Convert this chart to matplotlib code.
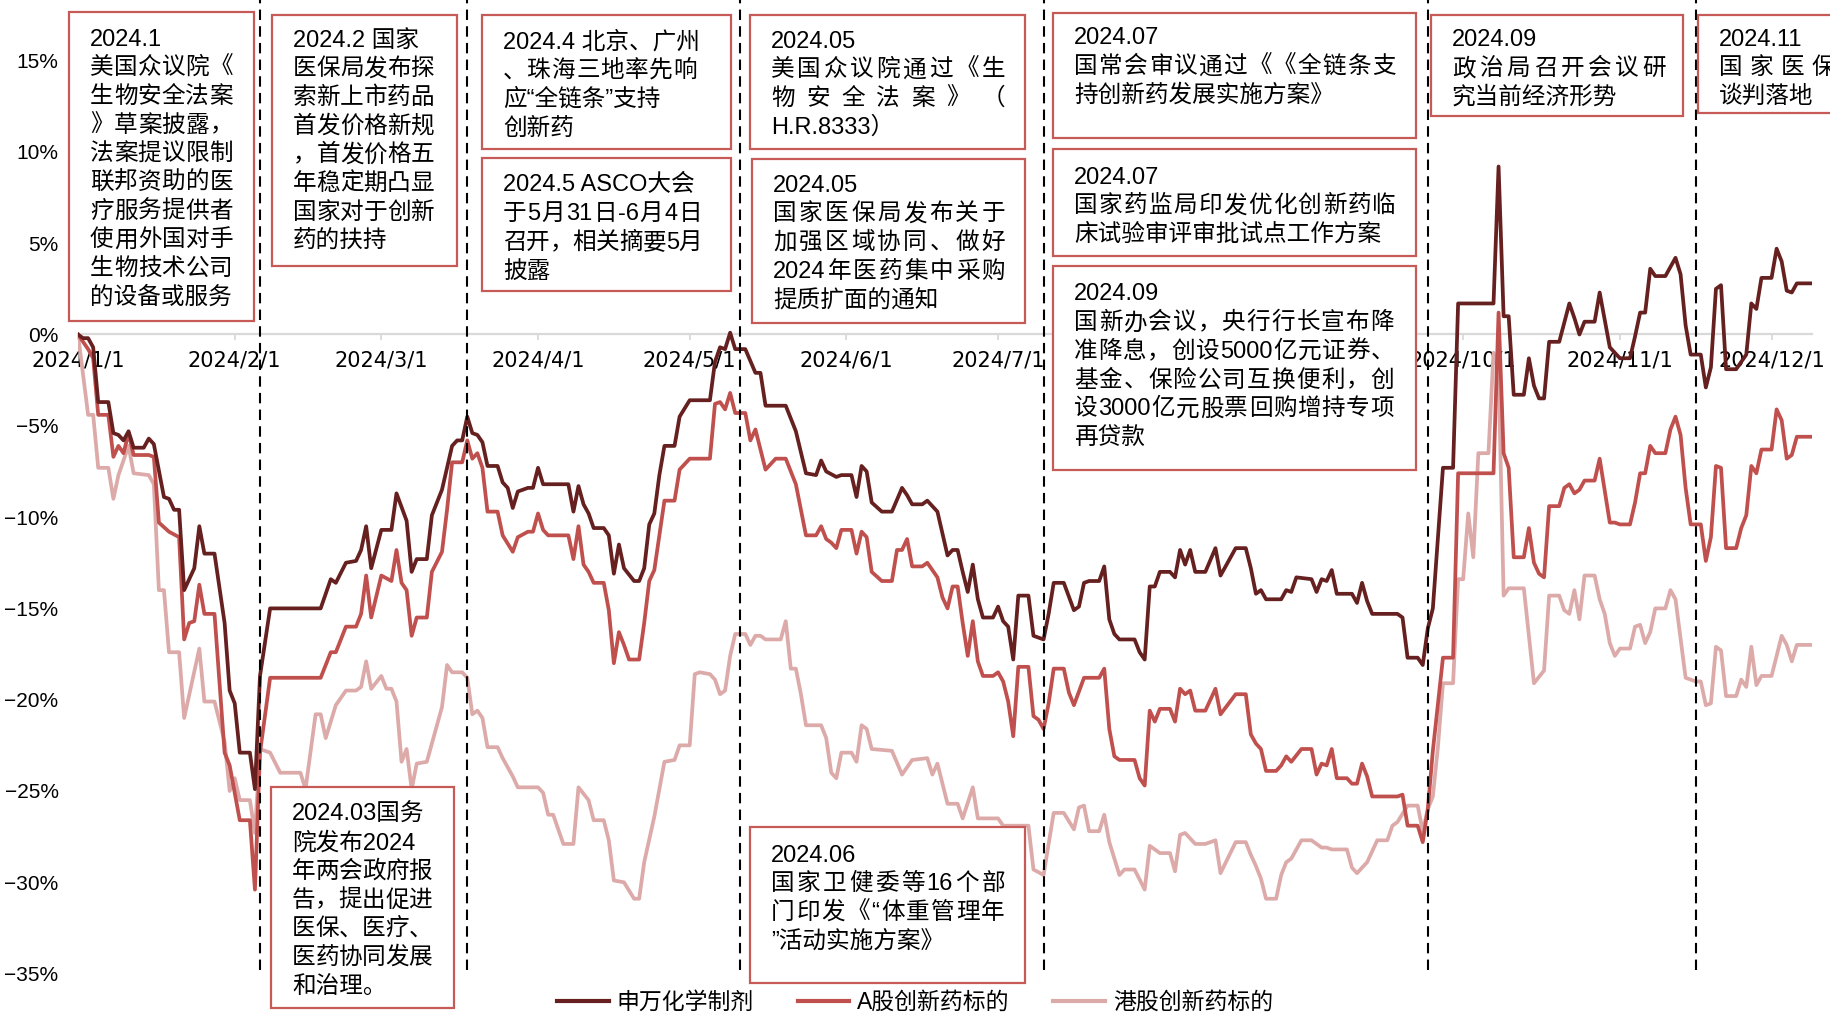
#!/usr/bin/env python3
# -*- coding: utf-8 -*-

import re

import pandas as pd
import matplotlib
matplotlib.use("Agg")
import matplotlib.pyplot as plt
from matplotlib.patches import Rectangle
from matplotlib.lines import Line2D

W, H = 1830, 1014

DARK = "#65201F"
MID = "#C0504D"
LIGHT = "#DDAAAA"
BOX_RED = "#C55A57"
CJK = ["Liberation Sans", "Noto Sans CJK SC", "DejaVu Sans"]

# 累计涨跌幅(%)，日期为 2024 年 月-日
chem_dates = [
    "1-1", "1-2", "1-3", "1-4", "1-5", "1-7", "1-8", "1-9", "1-10", "1-11", "1-12", "1-14",
    "1-15", "1-16", "1-18", "1-19", "1-20", "1-21", "1-22", "1-24", "1-25", "1-26", "1-28", "1-30",
    "1-31", "2-1", "2-2", "2-4", "2-5", "2-6", "2-8", "2-18", "2-19", "2-20", "2-21", "2-23",
    "2-25", "2-26", "2-27", "2-28", "3-1", "3-3", "3-4", "3-6", "3-7", "3-8", "3-10", "3-11",
    "3-13", "3-15", "3-16", "3-17", "3-18", "3-19", "3-20", "3-21", "3-22", "3-24", "3-25", "3-26",
    "3-27", "3-28", "3-30", "3-31", "4-1", "4-2", "4-7", "4-8", "4-9", "4-10", "4-11", "4-12",
    "4-14", "4-15", "4-16", "4-17", "4-18", "4-20", "4-21", "4-22", "4-23", "4-24", "4-25", "4-26",
    "4-28", "4-29", "5-1", "5-5", "5-6", "5-7", "5-8", "5-9", "5-10", "5-12", "5-14", "5-15",
    "5-16", "5-20", "5-21", "5-22", "5-24", "5-26", "5-27", "5-28", "5-30", "5-31", "6-2", "6-3",
    "6-4", "6-5", "6-6", "6-8", "6-10", "6-12", "6-13", "6-14", "6-16", "6-17", "6-19", "6-21",
    "6-22", "6-23", "6-24", "6-25", "6-26", "6-27", "6-28", "6-30", "7-1", "7-2", "7-3", "7-4",
    "7-5", "7-7", "7-8", "7-10", "7-11", "7-12", "7-14", "7-16", "7-17", "7-18", "7-19", "7-21",
    "7-22", "7-23", "7-24", "7-25", "7-28", "7-29", "7-30", "7-31", "8-1", "8-2", "8-4", "8-5",
    "8-6", "8-7", "8-8", "8-9", "8-11", "8-13", "8-14", "8-17", "8-19", "8-20", "8-21", "8-22",
    "8-23", "8-26", "8-27", "8-28", "8-29", "9-1", "9-2", "9-3", "9-4", "9-5", "9-6", "9-9",
    "9-10", "9-11", "9-12", "9-13", "9-18", "9-19", "9-20", "9-22", "9-23", "9-24", "9-25", "9-27",
    "9-29", "9-30", "10-7", "10-8", "10-9", "10-10", "10-11", "10-13", "10-14", "10-15", "10-16", "10-17",
    "10-18", "10-20", "10-22", "10-23", "10-24", "10-25", "10-27", "10-28", "10-30", "10-31", "11-1", "11-3",
    "11-4", "11-5", "11-6", "11-7", "11-8", "11-10", "11-12", "11-13", "11-14", "11-15", "11-17", "11-18",
    "11-19", "11-20", "11-21", "11-22", "11-24", "11-26", "11-27", "11-28", "11-29", "12-1", "12-2", "12-3",
    "12-4", "12-5", "12-6", "12-9",
]
chem_vals = [
    0.0, -0.2, -0.2, -0.7, -3.7, -3.7, -5.4, -5.5, -5.8, -5.3, -6.2, -6.2,
    -5.7, -6.0, -8.9, -9.0, -9.6, -9.6, -14.0, -12.8, -10.5, -12.0, -12.0, -15.8,
    -19.5, -20.2, -22.9, -22.9, -24.9, -18.7, -15.0, -15.0, -14.2, -13.4, -13.6, -12.5,
    -12.4, -11.8, -10.5, -12.8, -10.7, -10.7, -8.7, -10.2, -13.0, -12.3, -12.3, -9.9,
    -8.5, -6.1, -5.8, -5.8, -4.5, -5.4, -5.5, -5.9, -7.2, -7.2, -8.1, -8.4,
    -9.5, -8.6, -8.4, -8.4, -7.3, -8.2, -8.2, -9.7, -8.3, -9.3, -9.8, -10.6,
    -10.6, -11.0, -13.1, -11.5, -12.8, -13.5, -13.5, -12.8, -10.4, -9.8, -7.7, -6.1,
    -6.1, -4.5, -3.6, -3.6, -1.5, -0.7, -0.8, 0.1, -0.8, -0.8, -2.1, -2.1,
    -3.9, -3.9, -4.6, -5.3, -7.6, -7.7, -6.9, -7.5, -7.8, -7.7, -7.7, -8.9,
    -7.2, -7.5, -9.2, -9.7, -9.7, -8.4, -8.8, -9.3, -9.3, -9.1, -9.7, -12.1,
    -11.8, -11.8, -13.0, -14.1, -12.6, -14.5, -15.5, -15.5, -14.9, -15.7, -16.0, -17.8,
    -14.3, -14.3, -16.5, -16.7, -15.3, -13.6, -13.6, -15.1, -14.9, -13.6, -13.5, -13.5,
    -12.7, -15.6, -16.4, -16.7, -16.7, -17.4, -17.8, -13.8, -13.8, -13.0, -13.0, -13.3,
    -11.8, -12.6, -11.8, -13.0, -13.0, -11.7, -13.2, -11.7, -11.7, -12.8, -14.2, -14.0,
    -14.5, -14.5, -14.0, -14.1, -13.3, -13.4, -14.1, -13.4, -13.5, -12.9, -14.2, -14.2,
    -14.7, -13.6, -14.6, -15.3, -15.3, -15.5, -17.7, -17.7, -18.1, -16.1, -15.0, -7.3,
    -7.3, 1.7, 1.7, 9.2, 1.0, 1.0, -3.3, -3.3, -1.3, -2.8, -3.5, -3.5,
    -0.4, -0.4, 1.7, 0.9, 0.0, 0.7, 0.7, 2.3, -0.7, -1.0, -1.3, -1.3,
    -0.1, 1.2, 1.2, 3.6, 3.2, 3.2, 4.2, 3.3, 0.5, -1.1, -1.1, -2.9,
    -1.8, 2.5, 2.7, -1.9, -1.9, -1.1, 1.7, 1.4, 3.1, 3.1, 4.7, 4.0,
    2.4, 2.3, 2.8, 2.8,
]

a_dates = [
    "1-1", "1-2", "1-3", "1-4", "1-5", "1-7", "1-8", "1-9", "1-10", "1-11", "1-12", "1-15",
    "1-16", "1-17", "1-19", "1-21", "1-22", "1-23", "1-24", "1-25", "1-26", "1-28", "1-30", "1-31",
    "2-2", "2-4", "2-5", "2-6", "2-8", "2-18", "2-19", "2-20", "2-21", "2-23", "2-25", "2-26",
    "2-27", "2-28", "3-1", "3-3", "3-4", "3-5", "3-6", "3-7", "3-8", "3-10", "3-11", "3-13",
    "3-14", "3-15", "3-17", "3-18", "3-19", "3-20", "3-21", "3-22", "3-24", "3-25", "3-27", "3-28",
    "3-30", "3-31", "4-1", "4-2", "4-3", "4-7", "4-8", "4-9", "4-10", "4-11", "4-12", "4-14",
    "4-15", "4-16", "4-17", "4-18", "4-19", "4-21", "4-22", "4-23", "4-24", "4-25", "4-26", "4-28",
    "4-29", "5-1", "5-5", "5-6", "5-7", "5-8", "5-9", "5-10", "5-12", "5-13", "5-14", "5-16",
    "5-18", "5-20", "5-21", "5-22", "5-24", "5-26", "5-27", "5-28", "5-29", "5-30", "5-31", "6-2",
    "6-3", "6-4", "6-5", "6-6", "6-8", "6-10", "6-11", "6-12", "6-13", "6-14", "6-16", "6-17",
    "6-19", "6-20", "6-21", "6-22", "6-23", "6-24", "6-25", "6-26", "6-27", "6-28", "6-30", "7-1",
    "7-2", "7-3", "7-4", "7-5", "7-7", "7-8", "7-9", "7-10", "7-11", "7-12", "7-14", "7-15",
    "7-16", "7-18", "7-21", "7-22", "7-23", "7-24", "7-25", "7-28", "7-29", "7-30", "7-31", "8-1",
    "8-2", "8-4", "8-5", "8-6", "8-7", "8-8", "8-9", "8-11", "8-13", "8-14", "8-17", "8-19",
    "8-20", "8-21", "8-22", "8-23", "8-25", "8-26", "8-27", "8-28", "8-30", "9-1", "9-2", "9-3",
    "9-4", "9-5", "9-6", "9-8", "9-9", "9-10", "9-11", "9-12", "9-13", "9-18", "9-19", "9-20",
    "9-22", "9-23", "9-24", "9-25", "9-27", "9-29", "9-30", "10-7", "10-8", "10-9", "10-10", "10-11",
    "10-13", "10-14", "10-15", "10-16", "10-17", "10-18", "10-20", "10-21", "10-22", "10-23", "10-24", "10-25",
    "10-27", "10-28", "10-30", "10-31", "11-1", "11-3", "11-4", "11-5", "11-6", "11-7", "11-8", "11-10",
    "11-11", "11-12", "11-13", "11-14", "11-15", "11-17", "11-18", "11-19", "11-20", "11-21", "11-22", "11-24",
    "11-25", "11-26", "11-27", "11-28", "11-29", "12-1", "12-2", "12-3", "12-4", "12-5", "12-6", "12-9",
]
a_vals = [
    0.0, -0.4, -0.8, -1.3, -4.4, -4.4, -6.7, -6.1, -6.5, -5.4, -6.6, -6.6,
    -6.7, -10.3, -10.8, -11.1, -16.7, -15.8, -15.7, -13.7, -15.3, -15.3, -22.9, -23.6,
    -26.6, -26.6, -30.4, -22.9, -18.8, -18.8, -18.1, -17.4, -17.4, -16.0, -16.0, -15.3,
    -13.2, -15.5, -13.2, -13.5, -11.8, -13.6, -14.0, -16.5, -15.5, -15.5, -13.0, -11.9,
    -9.6, -7.0, -7.0, -5.8, -6.8, -6.5, -7.3, -9.7, -9.7, -11.0, -11.9, -11.1,
    -10.8, -10.8, -9.8, -10.7, -11.0, -11.0, -12.3, -10.5, -12.6, -13.0, -13.6, -13.6,
    -15.1, -18.0, -16.3, -17.0, -17.8, -17.8, -15.8, -13.5, -12.9, -11.0, -9.1, -9.1,
    -7.4, -6.8, -6.8, -3.8, -3.7, -4.1, -3.2, -4.3, -4.3, -5.8, -5.2, -7.4,
    -6.8, -6.8, -7.5, -8.2, -11.0, -11.0, -10.5, -11.2, -11.4, -11.7, -10.7, -10.7,
    -12.0, -10.8, -11.1, -13.0, -13.5, -13.5, -11.8, -11.8, -11.2, -12.7, -12.7, -12.5,
    -13.3, -14.4, -15.0, -13.8, -13.8, -15.8, -17.6, -15.7, -17.9, -18.7, -18.7, -18.5,
    -19.0, -20.1, -22.0, -18.2, -18.2, -20.9, -21.1, -21.6, -20.2, -18.3, -18.3, -19.6,
    -20.3, -18.8, -18.8, -18.3, -21.6, -23.1, -23.3, -23.3, -24.3, -24.7, -20.6, -21.2,
    -20.5, -20.5, -21.2, -19.4, -19.7, -19.5, -20.6, -20.6, -19.4, -20.8, -19.7, -19.7,
    -21.9, -22.4, -22.7, -23.9, -23.9, -23.6, -23.1, -23.4, -22.7, -22.7, -24.1, -23.5,
    -23.6, -22.7, -24.3, -24.3, -24.6, -24.6, -23.5, -24.2, -25.3, -25.3, -25.2, -26.9,
    -26.9, -27.8, -26.0, -22.8, -17.7, -17.7, -7.6, -7.6, 1.2, -6.5, -7.3, -12.2,
    -12.2, -10.6, -12.5, -13.1, -13.3, -9.4, -9.4, -8.4, -8.2, -8.7, -8.5, -8.0,
    -8.0, -6.8, -10.3, -10.3, -10.4, -10.4, -9.2, -7.6, -7.6, -6.1, -6.5, -6.5,
    -5.2, -4.5, -5.5, -8.4, -10.4, -10.4, -12.4, -11.1, -7.2, -7.3, -11.7, -11.7,
    -10.6, -9.9, -7.2, -7.6, -6.3, -6.3, -4.1, -4.7, -6.8, -6.6, -5.6, -5.6,
]

hk_dates = [
    "1-1", "1-3", "1-4", "1-5", "1-7", "1-8", "1-9", "1-11", "1-12", "1-15", "1-16", "1-17",
    "1-18", "1-19", "1-21", "1-22", "1-25", "1-26", "1-28", "1-30", "1-31", "2-1", "2-2", "2-4",
    "2-5", "2-6", "2-8", "2-10", "2-14", "2-15", "2-17", "2-18", "2-19", "2-21", "2-23", "2-25",
    "2-26", "2-27", "2-28", "3-1", "3-2", "3-3", "3-4", "3-5", "3-6", "3-7", "3-8", "3-10",
    "3-13", "3-14", "3-15", "3-17", "3-18", "3-19", "3-20", "3-21", "3-22", "3-24", "3-25", "3-27",
    "3-28", "4-1", "4-2", "4-3", "4-4", "4-6", "4-8", "4-9", "4-11", "4-12", "4-14", "4-15",
    "4-16", "4-18", "4-20", "4-21", "4-22", "4-24", "4-26", "4-28", "4-29", "5-1", "5-2", "5-3",
    "5-5", "5-6", "5-7", "5-8", "5-9", "5-10", "5-12", "5-13", "5-14", "5-15", "5-16", "5-19",
    "5-20", "5-21", "5-22", "5-23", "5-24", "5-27", "5-28", "5-29", "5-30", "5-31", "6-2", "6-3",
    "6-4", "6-5", "6-6", "6-10", "6-12", "6-14", "6-17", "6-18", "6-19", "6-21", "6-23", "6-24",
    "6-26", "6-27", "7-1", "7-2", "7-7", "7-8", "7-10", "7-12", "7-14", "7-16", "7-17", "7-18",
    "7-19", "7-21", "7-22", "7-23", "7-25", "7-26", "7-28", "7-30", "7-31", "8-2", "8-4", "8-5",
    "8-6", "8-7", "8-9", "8-11", "8-13", "8-14", "8-17", "8-19", "8-20", "8-21", "8-22", "8-23",
    "8-25", "8-26", "8-27", "8-28", "8-30", "9-1", "9-3", "9-4", "9-5", "9-8", "9-9", "9-10",
    "9-11", "9-12", "9-14", "9-16", "9-17", "9-18", "9-20", "9-22", "9-23", "9-24", "9-25", "9-26",
    "9-27", "9-29", "9-30", "10-1", "10-2", "10-3", "10-4", "10-6", "10-7", "10-8", "10-9", "10-10",
    "10-13", "10-15", "10-17", "10-18", "10-20", "10-21", "10-22", "10-23", "10-24", "10-25", "10-27", "10-28",
    "10-29", "10-30", "10-31", "11-1", "11-3", "11-4", "11-5", "11-6", "11-7", "11-8", "11-10", "11-11",
    "11-12", "11-14", "11-16", "11-17", "11-18", "11-19", "11-20", "11-21", "11-22", "11-24", "11-25", "11-26",
    "11-27", "11-28", "11-29", "12-1", "12-3", "12-4", "12-5", "12-6", "12-9",
]
hk_vals = [
    0.0, -4.4, -4.4, -7.3, -7.3, -9.0, -7.7, -6.1, -7.6, -7.7, -8.2, -14.0,
    -14.0, -17.4, -17.4, -21.0, -17.2, -20.1, -20.1, -22.3, -25.0, -24.3, -25.5, -25.5,
    -27.3, -22.7, -22.9, -24.0, -24.0, -24.9, -20.8, -20.8, -22.1, -20.3, -19.5, -19.5,
    -19.3, -17.9, -19.4, -18.7, -19.4, -19.4, -20.1, -23.4, -22.7, -24.9, -23.5, -23.4,
    -20.4, -18.1, -18.5, -18.5, -18.8, -20.8, -20.6, -21.0, -22.6, -22.6, -23.2, -24.2,
    -24.8, -24.8, -25.1, -26.3, -26.3, -27.9, -27.9, -24.8, -25.5, -26.6, -26.6, -27.7,
    -29.9, -30.0, -30.9, -30.9, -28.9, -26.4, -23.4, -23.3, -22.5, -22.5, -18.6, -18.5,
    -18.6, -18.9, -19.7, -19.5, -17.6, -16.4, -16.4, -17.0, -16.5, -16.5, -16.7, -16.7,
    -15.7, -18.3, -18.3, -19.7, -21.4, -21.4, -22.1, -24.0, -24.3, -22.9, -22.9, -23.4,
    -21.4, -21.6, -22.7, -22.8, -24.1, -23.3, -23.2, -24.1, -23.5, -25.7, -25.7, -26.5,
    -24.8, -26.5, -26.5, -26.9, -26.9, -29.3, -29.6, -26.2, -26.2, -27.1, -25.9, -25.8,
    -27.2, -27.2, -26.3, -27.8, -29.6, -29.3, -29.3, -30.4, -28.0, -28.4, -28.4, -29.4,
    -27.4, -27.3, -27.9, -27.9, -27.7, -29.5, -27.8, -27.8, -28.5, -29.1, -29.8, -30.9,
    -30.9, -29.6, -28.9, -28.7, -27.7, -27.7, -28.1, -28.1, -28.2, -28.2, -29.2, -29.5,
    -29.2, -28.9, -27.7, -27.7, -26.9, -26.7, -25.8, -25.8, -27.2, -26.0, -25.3, -22.6,
    -19.1, -19.1, -13.4, -13.4, -9.8, -12.2, -6.5, -6.5, -1.0, -2.0, -14.3, -13.9,
    -13.9, -19.1, -18.4, -14.3, -14.3, -15.1, -15.3, -14.0, -15.6, -13.2, -13.2, -14.5,
    -15.3, -16.9, -17.6, -17.2, -17.2, -16.0, -15.9, -16.9, -16.3, -15.0, -15.0, -14.0,
    -14.5, -18.8, -19.0, -19.0, -20.3, -20.2, -17.1, -17.3, -19.8, -19.8, -18.9, -19.3,
    -17.1, -19.2, -18.7, -18.7, -16.5, -17.0, -17.9, -17.0, -17.0,
]

series_names = ["申万化学制剂", "A股创新药标的", "港股创新药标的"]

# 事件竖线
event_dates = ["2-6", "3-18", "5-11", "7-10", "9-24", "11-16"]

# 事件说明框：左、上、右、下(像素)，首行中心，文字右边界，文字
boxes = [
    (69, 12, 254, 321, 37, 233,
     ["2024.1", "美国众议院《", "生物安全法案", "》草案披露，", "法案提议限制",
      "联邦资助的医", "疗服务提供者", "使用外国对手", "生物技术公司", "的设备或服务"]),
    (272, 15, 457, 266, 38, 434,
     ["2024.2 国家", "医保局发布探", "索新上市药品", "首发价格新规", "，首发价格五",
      "年稳定期凸显", "国家对于创新", "药的扶持"]),
    (482, 15, 731, 149, 40, 697,
     ["2024.4 北京、广州", "、珠海三地率先响", "应“全链条”支持", "创新药"]),
    (482, 158, 731, 291, 183, 702,
     ["2024.5 ASCO大会", "于5月31日-6月4日", "召开，相关摘要5月", "披露"]),
    (750, 15, 1025, 149, 39, 1005,
     ["2024.05", "美国众议院通过《生", "物安全法案》（", "H.R.8333）"]),
    (752, 159, 1025, 323, 183, 1005,
     ["2024.05", "国家医保局发布关于", "加强区域协同、做好", "2024年医药集中采购", "提质扩面的通知"]),
    (1053, 13, 1416, 138, 36, 1396,
     ["2024.07", "国常会审议通过《《全链条支", "持创新药发展实施方案》"]),
    (1053, 149, 1416, 256, 175, 1396,
     ["2024.07", "国家药监局印发优化创新药临", "床试验审评审批试点工作方案"]),
    (1053, 266, 1416, 470, 292, 1394,
     ["2024.09", "国新办会议，央行行长宣布降", "准降息，创设5000 亿元证券、",
      "基金、保险公司互换便利，创", "设3000亿元股票回购增持专项", "再贷款"]),
    (1431, 15, 1683, 116, 38, 1666,
     ["2024.09", "政治局召开会议研", "究当前经济形势"]),
    (1698, 15, 1870, 113, 37, 1835,
     ["2024.11", "国家医保", "谈判落地"]),
    (271, 787, 454, 1008, 812, 432,
     ["2024.03国务", "院发布2024", "年两会政府报", "告，提出促进", "医保、医疗、",
      "医药协同发展", "和治理。"]),
    (750, 827, 1025, 983, 853, 1005,
     ["2024.06", "国家卫健委等16个部", "门印发《“体重管理年", "”活动实施方案》"]),
]

# 不做两端对齐的行
plain_lines = {"院发布2024", "应“全链条”支持"}


def to_dates(md):
    return pd.to_datetime(["2024-" + s for s in md])


fig = plt.figure(figsize=(W / 100, H / 100), dpi=100)
ax = fig.add_axes([78 / W, 1 - 973.6 / H, (1812 - 78) / W, (973.6 - 60.6) / H])

ax.plot(to_dates(hk_dates), hk_vals, color=LIGHT, lw=2.7, zorder=3, label=series_names[2])
ax.plot(to_dates(a_dates), a_vals, color=MID, lw=2.7, zorder=3.1, label=series_names[1])
ax.plot(to_dates(chem_dates), chem_vals, color=DARK, lw=2.7, zorder=3.2, label=series_names[0])

ax.set_xlim(pd.Timestamp("2024-01-01"), pd.Timestamp("2024-12-09"))
ax.set_ylim(-35, 15)

for side in ["top", "right", "left"]:
    ax.spines[side].set_visible(False)
ax.spines["bottom"].set_position(("data", 0))
ax.spines["bottom"].set_color("#D9D9D9")
ax.spines["bottom"].set_linewidth(1.6)

# 8/1、9/1 两个刻度标签被说明框盖住，不写
month_ticks = pd.date_range("2024-01-01", "2024-12-01", freq="MS")
ax.set_xticks(month_ticks)
ax.set_xticklabels(["" if d.month in (8, 9) else f"{d.year}/{d.month}/{d.day}"
                    for d in month_ticks],
                   fontfamily="DejaVu Sans", fontsize=15)
ax.tick_params(axis="x", length=4.5, width=1.3, color="#D9D9D9", pad=7)

yt = list(range(-35, 16, 5))
ax.set_yticks(yt)
ax.set_yticklabels([("\u2212" if v < 0 else "") + f"{abs(v)}%" for v in yt],
                   fontfamily=["Liberation Sans Narrow", "Liberation Sans"], fontsize=15)
ax.tick_params(axis="y", length=0, pad=14)

# 虚线标注事件时点
for d in to_dates(event_dates):
    ax.plot([d, d], [-34.8, 18.3], color="black", lw=1.5, ls=(0, (5, 3)),
            clip_on=False, zorder=4)

renderer = fig.canvas.get_renderer()


def put_line(s, x_left, x_right, yc, justify):
    yb = 1 - (yc + 8.5) / H
    kw = dict(fontsize=17, family=CJK, color="black", va="baseline", ha="left", zorder=7)
    if not justify:
        fig.text(x_left / W, yb, s, **kw)
        return
    toks = re.findall(r"[A-Za-z0-9.\-]+|\S", s)
    arts = [fig.text(0, yb, t, **kw) for t in toks]
    widths = [a.get_window_extent(renderer).width for a in arts]
    gap = (x_right - x_left - sum(widths)) / max(len(toks) - 1, 1)
    x = x_left
    for a, w in zip(arts, widths):
        a.set_x(x / W)
        x += w + gap


for x0, y0, x1, y1, first, right, lines in boxes:
    fig.add_artist(Rectangle((x0 / W, 1 - y1 / H), (x1 - x0) / W, (y1 - y0) / H,
                             transform=fig.transFigure, facecolor="white",
                             edgecolor=BOX_RED, linewidth=1.6, zorder=6))
    left = x0 + 21
    for i, s in enumerate(lines):
        justify = 0 < i < len(lines) - 1 and s not in plain_lines
        put_line(s, left, right, first + i * 28.7, justify)

handles = [Line2D([], [], color=c, lw=3) for c in (DARK, MID, LIGHT)]
fig.legend(handles, series_names, loc="center", bbox_to_anchor=(0.5, 0.0113),
           ncol=3, frameon=False, prop={"family": CJK, "size": 16.5},
           handlelength=2.25, handletextpad=0.35, columnspacing=1.9)

fig.savefig("out.png", dpi=100)
